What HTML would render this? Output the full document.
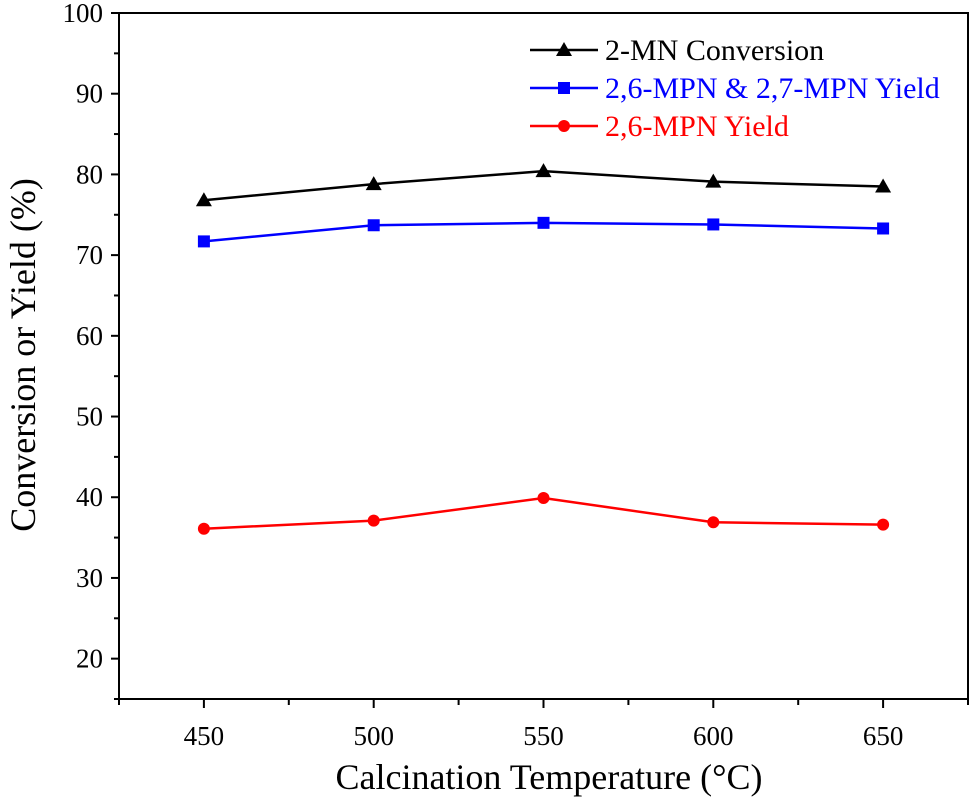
<!DOCTYPE html>
<html><head><meta charset="utf-8"><style>
html,body{margin:0;padding:0;background:#fff;}
svg{display:block;font-family:"Liberation Serif",serif;}
</style></head><body>
<svg id="chart" width="975" height="807" xmlns="http://www.w3.org/2000/svg"></svg>
<script>
const categories=[450,500,550,600,650];
const conversion=[76.8,78.8,80.4,79.1,78.5];
const yieldBoth=[71.7,73.7,74.0,73.8,73.3];
const yield26=[36.1,37.1,39.9,36.9,36.6];
const yTicks=[20,30,40,50,60,70,80,90,100];
const seriesNames=["2-MN Conversion","2,6-MPN & 2,7-MPN Yield","2,6-MPN Yield"];

const NS="http://www.w3.org/2000/svg";
const svg=document.getElementById('chart');
const L=119,R=968,T=13,B=699;
const xMin=425,xMax=675,yMin=15,yMax=100;
const xs=v=>L+(v-xMin)/(xMax-xMin)*(R-L);
const ys=v=>B-(v-yMin)/(yMax-yMin)*(B-T);
function mk(tag,attrs,parent){const e=document.createElementNS(NS,tag);for(const k in attrs)e.setAttribute(k,attrs[k]);(parent||svg).appendChild(e);return e;}

const frame=mk('rect',{x:L,y:T,width:R-L,height:B-T,fill:'none',stroke:'#000','stroke-width':2});



yTicks.forEach(v=>{
  const t=mk('line',{x1:L-8,x2:L,y1:ys(v),y2:ys(v),stroke:'#000','stroke-width':2});
  
  
  if(v<100){const m=mk('line',{x1:L-5,x2:L,y1:ys(v+5),y2:ys(v+5),stroke:'#000','stroke-width':2});
  
  }
  const tx=mk('text',{x:L-16,y:ys(v)+9,'text-anchor':'end','font-size':27});
  tx.textContent=v;
  
  
});
const m0=mk('line',{x1:L-5,x2:L,y1:ys(15),y2:ys(15),stroke:'#000','stroke-width':2});


for(let v=425;v<=675;v+=25){
  const major=(v-450)%50===0;
  const t=mk('line',{x1:xs(v),x2:xs(v),y1:B,y2:B+(major?9:6),stroke:'#000','stroke-width':2});
  
  
}
categories.forEach(c=>{
  const tx=mk('text',{x:xs(c),y:B+46,'text-anchor':'middle','font-size':27});
  tx.textContent=c;
  
  
});
const xt=mk('text',{x:549,y:789,'text-anchor':'middle','font-size':36});
xt.textContent='Calcination Temperature (°C)';


const yt=mk('text',{x:0,y:0,'text-anchor':'middle','font-size':36,transform:`translate(35,355) rotate(-90)`});
yt.textContent='Conversion or Yield (%)';



function marker(type,x,y,color,g){
  if(type==='tri') return mk('polygon',{points:`${x},${y-8} ${x-8},${y+6} ${x+8},${y+6}`,fill:color},g);
  if(type==='sq') return mk('rect',{x:x-6,y:y-6,width:12,height:12,fill:color},g);
  return mk('circle',{cx:x,cy:y,r:6,fill:color},g);
}
const series=[[conversion,'#000','tri','series-conversion'],[yieldBoth,'#0000ff','sq','series-yield-26-27'],[yield26,'#ff0000','circ','series-yield-26']];
series.forEach(([data,color,type,name],i)=>{
  const g=mk('g',{});
  
  
  const pl=mk('polyline',{points:data.map((v,j)=>xs(categories[j])+','+ys(v)).join(' '),fill:'none',stroke:color,'stroke-width':2.5},g);
  
  
  data.forEach((v,j)=>{const m=marker(type,xs(categories[j]),ys(v),color,g);
    
    });
  const ly=50+i*38;
  const lg=mk('g',{},svg);
  
  
  mk('line',{x1:530,x2:598,y1:ly,y2:ly,stroke:color,'stroke-width':2.5},lg);
  marker(type,564,ly,color,lg);
  const t=mk('text',{x:605,y:ly+10,'font-size':30,fill:color},lg);
  t.textContent=seriesNames[i];
});
</script>
</body></html>
